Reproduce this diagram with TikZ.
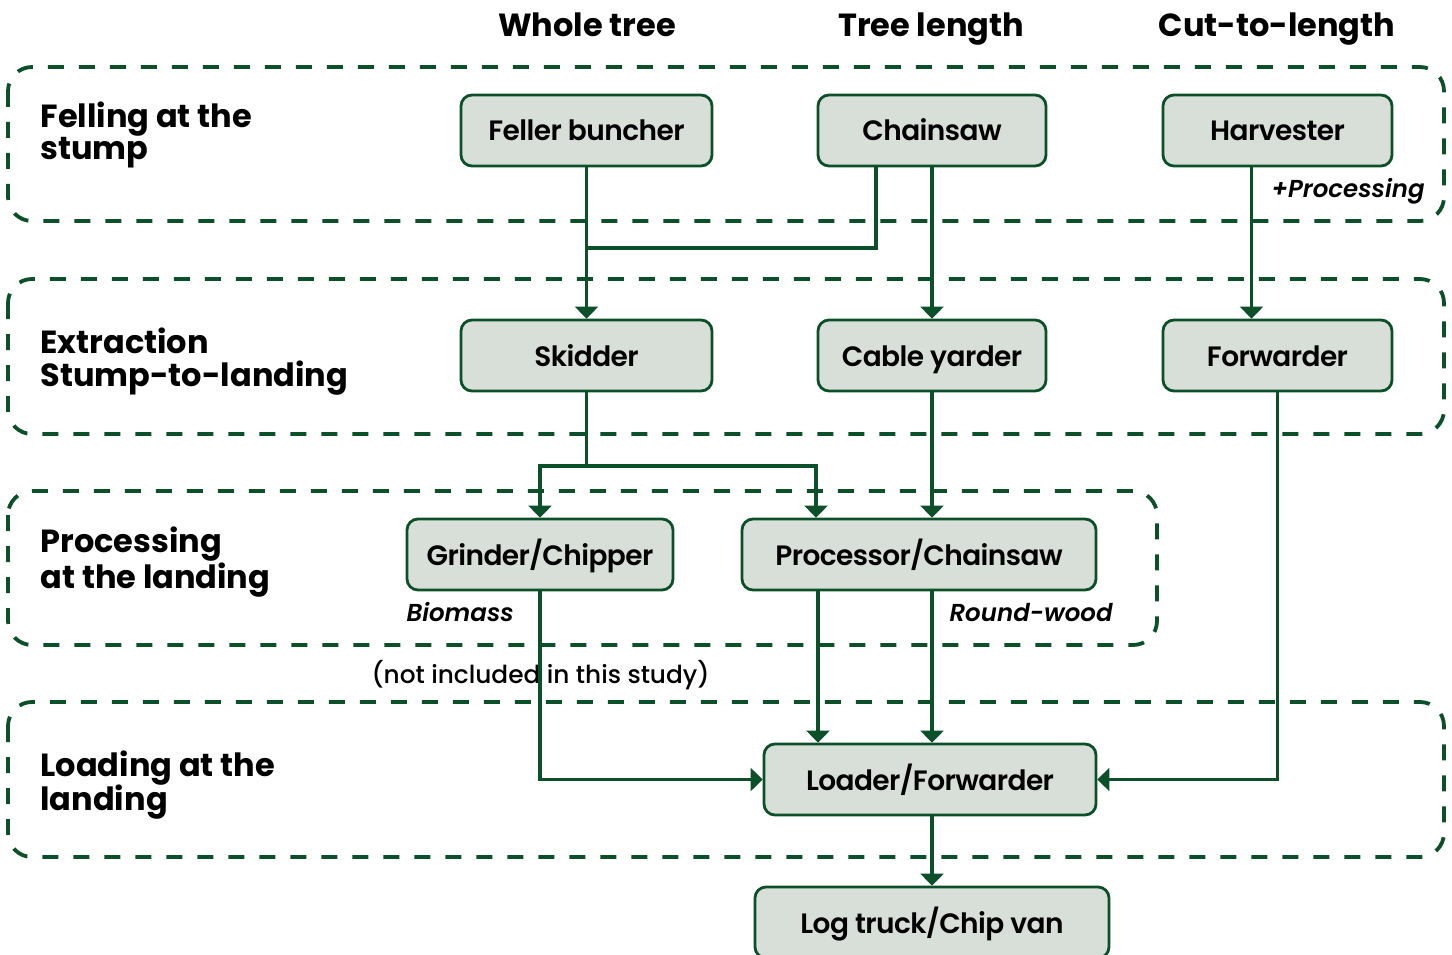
\documentclass[tikz,border=0pt]{standalone}
\usepackage{fontspec}
\setmainfont{Poppins}
\newfontfamily\pbox{Poppins SemiBold}[LetterSpace=-2]
\newfontfamily\pmed{Poppins Medium}
\newfontfamily\psemiit{Poppins SemiBold Italic}
\usetikzlibrary{arrows.meta}
\definecolor{dg}{HTML}{0B5028}
\definecolor{bf}{HTML}{D8DFD8}
\begin{document}
\begin{tikzpicture}[x=1pt,y=-1pt,
  box/.style={draw=dg, line width=2.8pt, fill=bf, rounded corners=11pt,
    minimum height=71pt, inner sep=0pt, text height=22pt, text depth=1pt,
    font=\pbox\fontsize{28}{28}\selectfont},
  region/.style={draw=dg, line width=3.8pt, dash pattern=on 16pt off 15pt, rounded corners=24pt},
  ln/.style={draw=dg, line width=3.4pt},
  conn/.style={ln, -{Triangle[width=23pt,length=12pt]}},
  head/.style={font=\bfseries\fontsize{32}{32}\selectfont, anchor=base},
  row/.style={font=\bfseries\fontsize{32}{32}\selectfont, anchor=base west},
  itl/.style={font=\psemiit\fontsize{24.5}{24.5}\selectfont, anchor=base west},
]
\useasboundingbox (0,0) rectangle (1452,955);
% regions
\draw[region] (8,67) rectangle (1444,221);
\draw[region] (8,279) rectangle (1444,434);
\draw[region] (8,491) rectangle (1157,645);
\draw[region] (8,702) rectangle (1444,857);
% headings
\node[head] (h1) at (587,37) {Whole tree};
\node[head] (h2) at (931,37) {Tree length};
\node[head] (h3) at (1277,37) {Cut-to-length};
% row labels
\node[row] (r1a) at (37,128) {Felling at the};
\node[row] (r1b) at (37,160) {stump};
\node[row] (r2a) at (37,353) {Extraction};
\node[row] (r2b) at (37,386) {Stump-to-landing};
\node[row] (r3a) at (37,552) {Processing};
\node[row] (r3b) at (37,588) {at the landing};
\node[row] (r4a) at (37,776) {Loading at the};
\node[row] (r4b) at (37,810) {landing};
% boxes
\node[box, minimum width=251pt] (fb) at (586.5,130.5) {Feller buncher};
\node[box, minimum width=228pt] (cs) at (932,130.5) {Chainsaw};
\node[box, minimum width=229pt] (hv) at (1277.5,130.5) {Harvester};
\node[box, minimum width=251pt] (sk) at (586.5,355.5) {Skidder};
\node[box, minimum width=228pt] (cy) at (932,355.5) {Cable yarder};
\node[box, minimum width=229pt] (fw) at (1277.5,355.5) {Forwarder};
\node[box, minimum width=266pt] (gc) at (540,554.5) {Grinder/Chipper};
\node[box, minimum width=354pt] (pc) at (919,554.5) {Processor/Chainsaw};
\node[box, minimum width=332pt] (lf) at (930,779.5) {Loader/Forwarder};
\node[box, minimum width=354pt] (lt) at (932,922.5) {Log truck/Chip van};
% italic labels
\node[itl] (l1) at (1268,197) {+Processing};
\node[itl] (l2) at (403,621) {Biomass};
\node[itl] (l3) at (946,621) {Round-wood};
\node[font=\pmed\fontsize{24.8}{24.8}\selectfont, anchor=base west] (l4) at (368,683) {(not included in this study)};
% connectors
\coordinate (j1) at (586.5,248);
\coordinate (j2) at (586.5,466);
\draw[conn] (fb) -- (sk);
\draw[ln] ([xshift=-56pt]cs.south) |- (j1);
\draw[conn] (cs) -- (cy);
\draw[conn] ([xshift=-26pt]hv.south) -- ([xshift=-26pt]fw.north);
\draw[ln] (sk) -- (j2);
\draw[conn] (j2) -| (gc.north);
\draw[conn] (j2) -| ([xshift=-103pt]pc.north);
\draw[conn] (cy) -- (cy |- pc.north);
\draw[conn] (gc.south) |- (lf.west);
\draw[conn] ([xshift=-101pt]pc.south) -- ([xshift=-101pt]pc.south |- lf.north);
\draw[conn] (cy |- pc.south) -- (cy |- lf.north);
\draw[conn] (fw.south) |- (lf.east);
\draw[conn] (lt.north |- lf.south) -- (lt.north);
\end{tikzpicture}
\end{document}
